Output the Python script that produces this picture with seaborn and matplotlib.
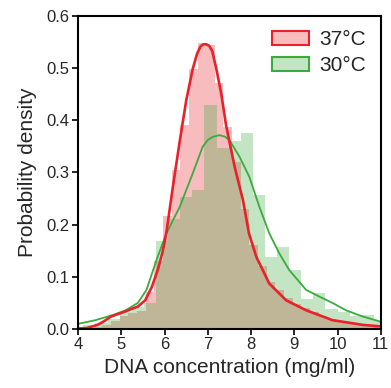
import numpy as np
import pandas as pd
import matplotlib.pyplot as plt
import seaborn as sns
from matplotlib.patches import Patch

# histogram heights (probability density per bin)
dens_37 = [0.0, 0.003, 0.008, 0.015, 0.025, 0.03, 0.035, 0.07, 0.13, 0.216,
           0.304, 0.39, 0.497, 0.547, 0.543, 0.47, 0.386, 0.32, 0.23, 0.16,
           0.12, 0.09, 0.075, 0.06, 0.048, 0.04, 0.032, 0.025, 0.02, 0.016,
           0.012, 0.01, 0.008, 0.006]
dens_30 = [0.008, 0.012, 0.02, 0.032, 0.043, 0.05, 0.168, 0.21, 0.252, 0.267,
           0.428, 0.347, 0.36, 0.375, 0.256, 0.138, 0.157, 0.113, 0.057, 0.068,
           0.038, 0.033, 0.024, 0.027, 0.015]
bw_37, start_37 = 0.2, 4.16
bw_30, start_30 = 0.28, 4.12

# smoothed density curves
kde_x_37 = [4.0, 4.2, 4.45, 4.6, 4.76, 5.07, 5.38, 5.55, 5.7, 5.84, 5.95, 6.04,
            6.19, 6.35, 6.5, 6.65, 6.75, 6.83, 6.9, 6.96, 7.03, 7.1, 7.19, 7.31,
            7.42, 7.54, 7.62, 7.81, 7.95, 8.12, 8.42, 8.81, 9.27, 9.88, 10.58, 11.0]
kde_y_37 = [0.001, 0.002, 0.008, 0.015, 0.024, 0.033, 0.043, 0.055, 0.08, 0.113,
            0.147, 0.185, 0.272, 0.36, 0.438, 0.498, 0.527, 0.541, 0.545, 0.545,
            0.542, 0.532, 0.5, 0.45, 0.39, 0.342, 0.31, 0.247, 0.183, 0.138,
            0.087, 0.055, 0.036, 0.017, 0.008, 0.005]
kde_x_30 = [4.0, 4.4, 4.81, 5.1, 5.38, 5.58, 5.81, 6.04, 6.35, 6.65, 6.88, 7.0,
            7.12, 7.27, 7.4, 7.5, 7.73, 7.96, 8.19, 8.42, 8.65, 8.88, 9.27,
            9.58, 9.88, 10.19, 10.58, 11.0]
kde_y_30 = [0.01, 0.017, 0.027, 0.036, 0.05, 0.075, 0.132, 0.183, 0.234, 0.298,
            0.349, 0.362, 0.368, 0.371, 0.368, 0.361, 0.33, 0.291, 0.234, 0.183,
            0.145, 0.113, 0.075, 0.062, 0.05, 0.036, 0.024, 0.014]

red = "#E8212B"
green = "#3AAB3C"

h37 = pd.DataFrame({"x": start_37 + bw_37 * (np.arange(len(dens_37)) + 0.5), "w": dens_37})
h30 = pd.DataFrame({"x": start_30 + bw_30 * (np.arange(len(dens_30)) + 0.5), "w": dens_30})

sns.set_style("ticks")
plt.rcParams["font.family"] = ["Liberation Sans", "DejaVu Sans"]

fig = plt.figure(figsize=(3.91, 3.88), dpi=100)
ax = fig.add_axes([0.2, 0.152, 0.774, 0.808])

sns.histplot(data=h37, x="x", weights="w", binwidth=bw_37, binrange=(start_37, start_37 + bw_37 * len(dens_37)),
             color=red, alpha=0.3, linewidth=0, ax=ax)
sns.histplot(data=h30, x="x", weights="w", binwidth=bw_30, binrange=(start_30, start_30 + bw_30 * len(dens_30)),
             color=green, alpha=0.3, linewidth=0, ax=ax)
sns.lineplot(x=kde_x_30, y=kde_y_30, color=green, linewidth=1.3, ax=ax)
sns.lineplot(x=kde_x_37, y=kde_y_37, color=red, linewidth=1.9, ax=ax)

ax.set_xlim(4, 11)
ax.set_ylim(0, 0.6)
ax.set_xticks(range(4, 12))
ax.set_yticks(np.arange(0, 0.61, 0.1))
ax.set_yticklabels([f"{v:.1f}" for v in np.arange(0, 0.61, 0.1)])
ax.set_xlabel("DNA concentration (mg/ml)", fontsize=15, labelpad=4)
ax.set_ylabel("Probability density", fontsize=15, labelpad=7)
ax.tick_params(labelsize=12, length=4, width=1.2, color="black", pad=2)
for s in ax.spines.values():
    s.set_linewidth(1.5)
    s.set_color("black")

handles = [Patch(facecolor=(0.91, 0.13, 0.17, 0.3), edgecolor=red, linewidth=1.5),
           Patch(facecolor=(0.23, 0.67, 0.24, 0.3), edgecolor=green, linewidth=1.5)]
ax.legend(handles, ["37°C", "30°C"], loc="upper right", frameon=False, fontsize=15,
          handlelength=1.8, handleheight=0.7, handletextpad=0.5, labelspacing=0.35,
          borderaxespad=0.3)

fig.savefig("out.png", dpi=100)
